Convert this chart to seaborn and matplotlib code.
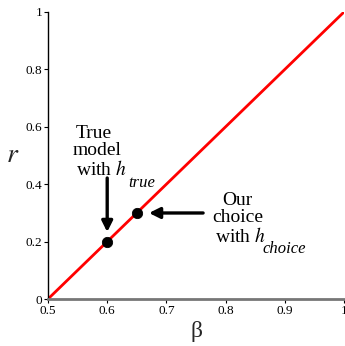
import matplotlib
matplotlib.use("Agg")
import matplotlib.pyplot as plt
import numpy as np
import pandas as pd
import seaborn as sns

# Relation between beta and r: r = 2*beta - 1
beta_values = [0.5, 1.0]
r_values = [0.0, 1.0]

# Highlighted models
point_beta = [0.6, 0.65]
point_r = [0.2, 0.3]

x_ticks = [0.5, 0.6, 0.7, 0.8, 0.9, 1.0]
x_tick_labels = ["0.5", "0.6", "0.7", "0.8", "0.9", "1"]
y_ticks = [0.0, 0.2, 0.4, 0.6, 0.8, 1.0]
y_tick_labels = ["0", "0.2", "0.4", "0.6", "0.8", "1"]

sns.set_style("ticks")
plt.rcParams["font.family"] = ["Liberation Serif", "DejaVu Serif"]
plt.rcParams["mathtext.fontset"] = "stix"

line_df = pd.DataFrame({"beta": beta_values, "r": r_values})
pts_df = pd.DataFrame({"beta": point_beta, "r": point_r})

fig = plt.figure(figsize=(3.45, 3.46), dpi=100)
ax = fig.add_axes([48 / 345, 47 / 346, 296 / 345, 287 / 346])

sns.lineplot(data=line_df, x="beta", y="r", color="#ff0000", lw=2.0, ax=ax,
             zorder=2)
sns.scatterplot(data=pts_df, x="beta", y="r", color="black", s=55,
                edgecolor="black", ax=ax, zorder=3)

ax.set_xlim(0.5, 1.0)
ax.set_ylim(0.0, 1.0)
ax.set_xticks(x_ticks)
ax.set_xticklabels(x_tick_labels)
ax.set_yticks(y_ticks)
ax.set_yticklabels(y_tick_labels)
ax.tick_params(axis="both", labelsize=9.5, length=3, width=0.8, pad=1,
               colors="black")

for side in ("top", "right"):
    ax.spines[side].set_visible(False)
ax.spines["left"].set_color("black")
ax.spines["left"].set_linewidth(1.0)
ax.spines["bottom"].set_color("#777777")
ax.spines["bottom"].set_linewidth(2.0)

ax.set_xlabel("β", fontsize=17, labelpad=3)
ax.set_ylabel(r"$r$", fontsize=20, rotation=0, va="center")
ax.yaxis.set_label_coords(-0.12, 0.5)

txt = dict(fontsize=14, va="baseline", color="black")
sub = dict(fontsize=12, va="baseline", ha="left", color="black",
           style="italic")

# Label for the true model
ax.text(0.5777, 0.561, "True", ha="center", **txt)
ax.text(0.5828, 0.502, "model", ha="center", **txt)
ax.text(0.5904, 0.432, r"with $h$", ha="center", **txt)
ax.text(0.6351, 0.390, "true", **sub)

# Label for the chosen model
ax.text(0.8193, 0.3275, "Our", ha="center", **txt)
ax.text(0.821, 0.268, "choice", ha="center", **txt)
ax.text(0.8243, 0.1986, r"with $h$", ha="center", **txt)
ax.text(0.8615, 0.160, "choice", **sub)

arrow = dict(arrowstyle="-|>", lw=2.4, color="black", mutation_scale=16,
             shrinkA=0, shrinkB=0)
ax.annotate("", xy=(0.6, 0.2334), xytext=(0.6, 0.4216), arrowprops=arrow)
ax.annotate("", xy=(0.6706, 0.2997), xytext=(0.762, 0.2997), arrowprops=arrow)

fig.savefig("out.png", dpi=100)
